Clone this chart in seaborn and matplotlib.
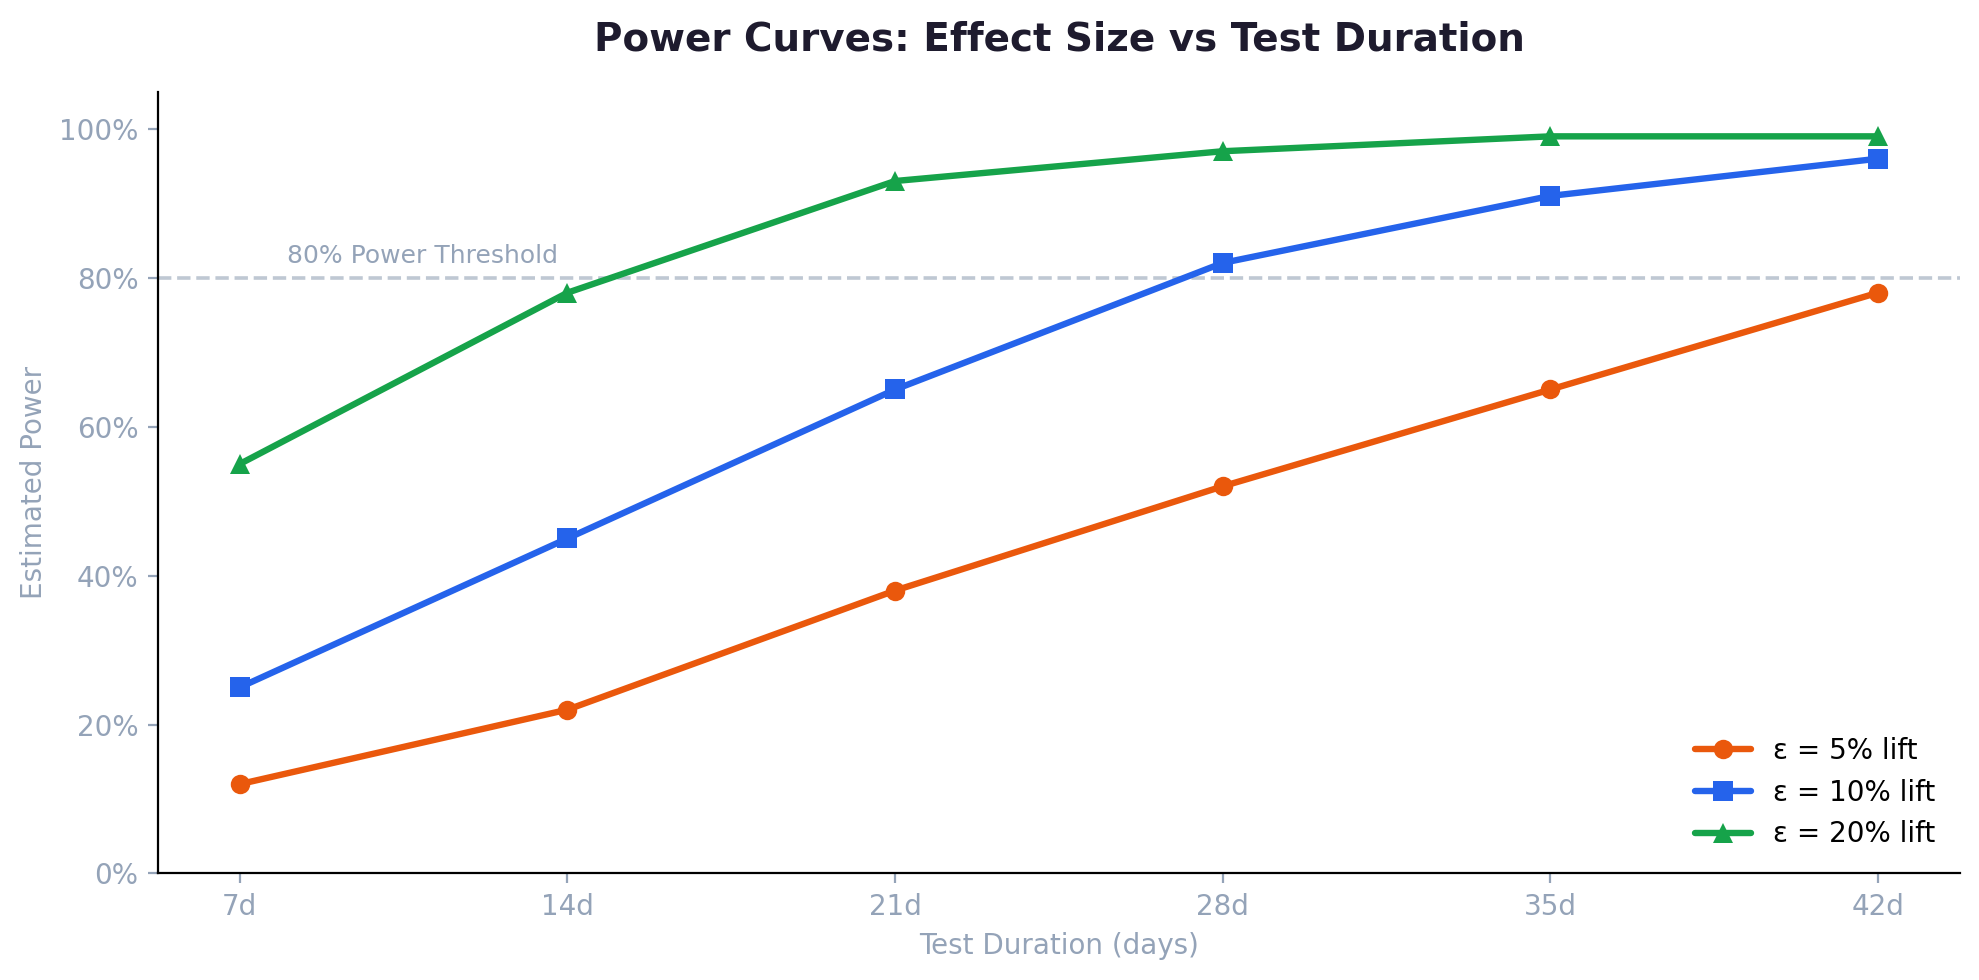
import matplotlib
matplotlib.use("Agg")
import matplotlib.pyplot as plt
import numpy as np
import pandas as pd
import seaborn as sns
from matplotlib.ticker import PercentFormatter

days = [7, 14, 21, 28, 35, 42]
day_labels = ["7d", "14d", "21d", "28d", "35d", "42d"]
power_5 = [0.12, 0.22, 0.38, 0.52, 0.65, 0.78]
power_10 = [0.25, 0.45, 0.65, 0.82, 0.91, 0.96]
power_20 = [0.55, 0.78, 0.93, 0.97, 0.99, 0.99]
series_names = ["ε = 5% lift", "ε = 10% lift", "ε = 20% lift"]

df = pd.DataFrame({
    "days": days * 3,
    "power": power_5 + power_10 + power_20,
    "series": np.repeat(series_names, len(days)),
})

sns.set_style("ticks")
plt.rcParams["font.family"] = ["DejaVu Sans"]

gray = "#94a3b8"
palette = {series_names[0]: "#ea580c", series_names[1]: "#2563eb", series_names[2]: "#16a34a"}
markers = {series_names[0]: "o", series_names[1]: "s", series_names[2]: "^"}

fig, ax = plt.subplots(figsize=(10, 5), dpi=200)
sns.lineplot(data=df, x="days", y="power", hue="series", style="series",
             palette=palette, markers=markers, dashes=False, linewidth=2.3,
             markersize=7, markeredgewidth=0, ax=ax)

# 80% threshold reference
ax.axhline(0.8, color="#bfc8d3", linestyle="--", linewidth=1.3, zorder=0)
ax.text(8.0, 0.82, "80% Power Threshold", color=gray, fontsize=9)

ax.set_ylim(0, 1.05)
ax.yaxis.set_major_formatter(PercentFormatter(1.0, decimals=0))
ax.set_xticks(days)
ax.set_xticklabels(day_labels)
ax.tick_params(colors=gray, labelsize=10)
ax.set_xlabel("Test Duration (days)", color=gray, fontsize=10)
ax.set_ylabel("Estimated Power", color=gray, fontsize=10)
ax.set_title("Power Curves: Effect Size vs Test Duration", fontsize=14,
             fontweight="bold", color="#1e1b2e", pad=15)
for s in ["left", "bottom"]:
    ax.spines[s].set_color("black")
sns.despine(ax=ax)

leg = ax.legend(loc="lower right", frameon=False, fontsize=10, title=None)
for t in leg.get_texts():
    t.set_color("black")

fig.tight_layout()
fig.savefig("out.png", dpi=200, bbox_inches="tight")
